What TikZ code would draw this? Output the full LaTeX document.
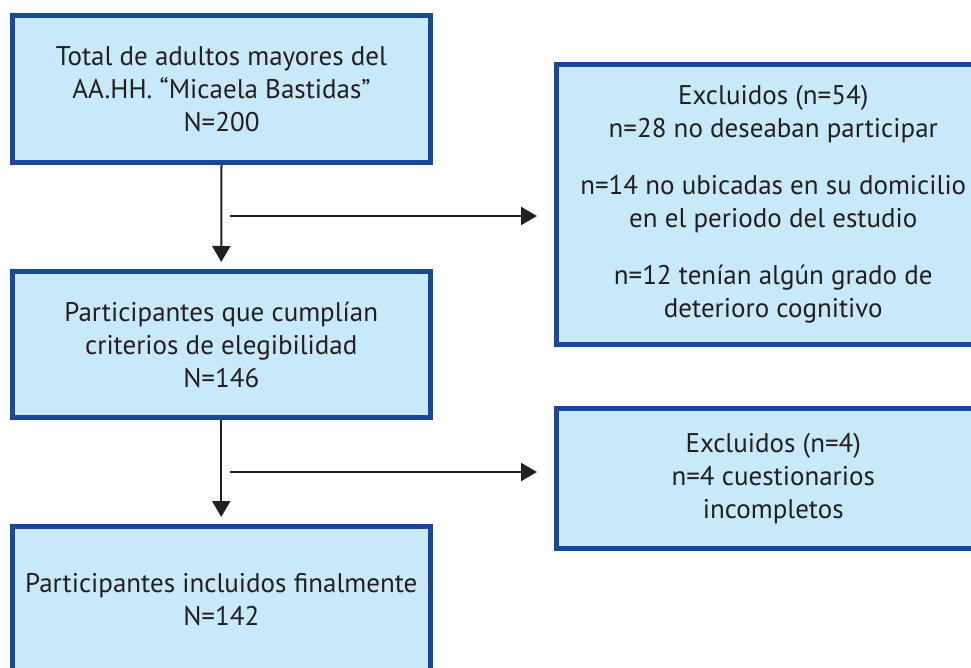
\documentclass[tikz,border=0pt]{standalone}
\usepackage{fontspec}
\setmainfont{PT Sans}
\usetikzlibrary{arrows.meta}
\definecolor{boxborder}{RGB}{27,71,155}
\definecolor{boxfill}{RGB}{199,233,249}
\definecolor{ink}{RGB}{35,31,32}
\begin{document}
\begin{tikzpicture}[x=1pt,y=-1pt,
  flowbox/.style={draw=boxborder,fill=boxfill,line width=5pt,inner sep=0pt,
    align=center,text=ink,font=\fontsize{27}{33}\selectfont},
  conn/.style={draw=ink,line width=2pt,-{Triangle[width=18pt,length=16pt]}}]
\useasboundingbox (0,0) rectangle (971,668);
\node[flowbox,minimum width=418pt,minimum height=147pt] (b1) at (221.5,89)
  {Total de adultos mayores del\\AA.HH. “Micaela Bastidas”\\N=200};
\node[flowbox,minimum width=417.5pt,minimum height=146pt] (b2) at (221.25,344.5)
  {Participantes que cumplían\\criterios de elegibilidad\\N=146};
\node[flowbox,minimum width=417.5pt,minimum height=146.5pt] (b3) at (221.25,599.75)
  {Participantes incluidos finalmente\\N=142};
\node[flowbox,minimum width=433.5pt,minimum height=280pt] (b4) at (773.25,204.5)
  {Excluidos (n=54)\\n=28 no deseaban participar\\[24pt]n=14 no ubicadas en su domicilio\\en el periodo del estudio\\[24pt]n=12 tenían algún grado de\\deterioro cognitivo};
\node[flowbox,minimum width=433.5pt,minimum height=140pt] (b5) at (773.25,478.5)
  {Excluidos (n=4)\\n=4 cuestionarios\\incompletos};
\coordinate (h1) at (230,216);
\coordinate (h2) at (230,472);
\draw[conn,shorten >=7pt] (b1.south) -- (b2.north);
\draw[conn,shorten >=7pt] (b2.south) -- (b3.north);
\draw[conn,shorten >=17pt] (h1) -- (b4.west |- h1);
\draw[conn,shorten >=17pt] (h2) -- (b5.west |- h2);
\end{tikzpicture}
\end{document}
